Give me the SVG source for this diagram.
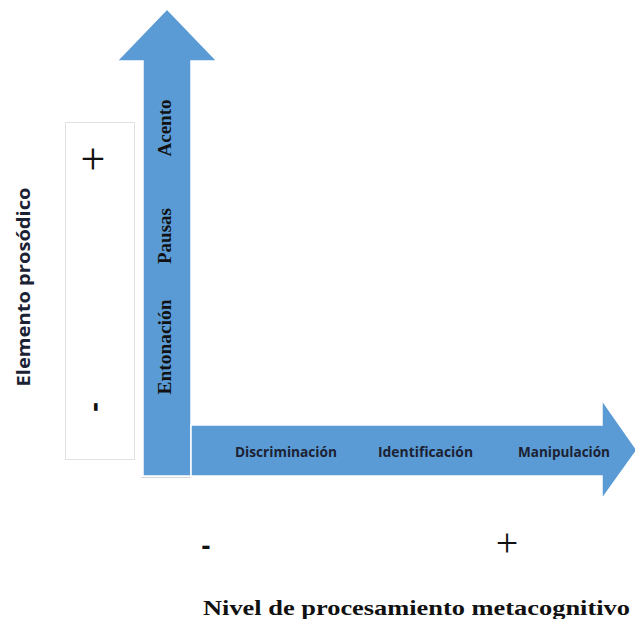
<svg xmlns="http://www.w3.org/2000/svg" width="635" height="619" viewBox="0 0 635 619">
<style>
.arrow{fill:#5b9bd5;stroke:#ffffff;stroke-width:1.5}
.serif{font-family:"Liberation Serif","Times New Roman",serif;font-weight:bold;fill:#111}
.sans{font-family:"Open Sans","Liberation Sans",Arial,sans-serif;font-weight:bold;fill:#1b2233}
.plus{font-family:"Liberation Serif","Times New Roman",serif;fill:#111}
.minus{font-family:"Liberation Sans",Arial,sans-serif;font-weight:bold;fill:#111}
</style>
<rect x="0" y="0" width="635" height="619" fill="#ffffff"/>
<g id="scale-box">
<rect x="65.5" y="122.5" width="69" height="337" fill="#ffffff" stroke="#e2e2e2" stroke-width="1"/>
</g>
<g id="connectors">
<polygon id="vertical-arrow" class="arrow" points="167,9 217,61 191,61 191,476 143,476 143,61 117,61"/>
<line x1="141" y1="477.5" x2="191" y2="477.5" stroke="#d6d6d6" stroke-width="1"/>
<polygon id="horizontal-arrow" class="arrow" points="191,425 602,425 602,400 637,450 602,499 602,476 191,476"/>
</g>
<g id="vertical-labels">
<text class="serif" font-size="18" text-anchor="middle" textLength="57" lengthAdjust="spacingAndGlyphs" transform="translate(171,128) rotate(-90)">Acento</text>
<text class="serif" font-size="18" text-anchor="middle" textLength="56" lengthAdjust="spacingAndGlyphs" transform="translate(171,236) rotate(-90)">Pausas</text>
<text class="serif" font-size="18" text-anchor="middle" textLength="95" lengthAdjust="spacingAndGlyphs" transform="translate(171,347) rotate(-90)">Entonación</text>
</g>
<g id="horizontal-labels">
<text class="sans" font-size="13.5" x="235" y="457" textLength="102" lengthAdjust="spacingAndGlyphs">Discriminación</text>
<text class="sans" font-size="13.5" x="378" y="457" textLength="95" lengthAdjust="spacingAndGlyphs">Identificación</text>
<text class="sans" font-size="13.5" x="518" y="457" textLength="92" lengthAdjust="spacingAndGlyphs">Manipulación</text>
</g>
<g id="y-axis-title">
<text class="sans" font-size="17" text-anchor="middle" textLength="199" lengthAdjust="spacingAndGlyphs" transform="translate(30,287) rotate(-90)">Elemento prosódico</text>
</g>
<g id="y-signs">
<text class="plus" font-size="44" text-anchor="middle" x="93" y="174">+</text>
<text class="minus" font-size="30" text-anchor="middle" transform="translate(88,407) rotate(90)">-</text>
</g>
<g id="x-signs">
<text class="minus" font-size="28" text-anchor="middle" x="206" y="555">-</text>
<text class="plus" font-size="40" text-anchor="middle" x="507" y="556">+</text>
</g>
<g id="x-axis-title">
<text class="serif" font-size="21" x="203" y="615" textLength="427" lengthAdjust="spacingAndGlyphs">Nivel de procesamiento metacognitivo</text>
</g>
</svg>
